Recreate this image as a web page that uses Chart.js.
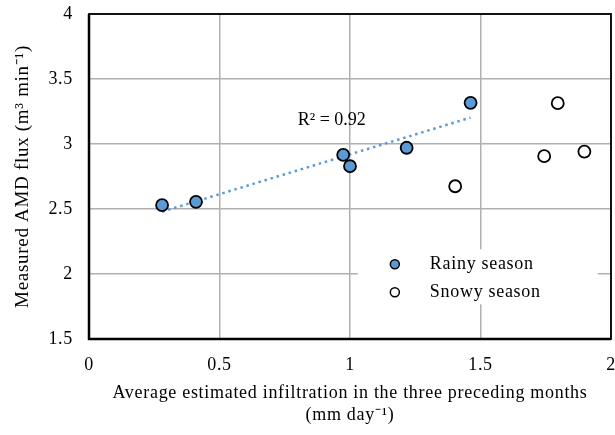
<!DOCTYPE html>
<html>
<head>
<meta charset="utf-8">
<script src="https://cdn.jsdelivr.net/npm/chart.js@4"></script>
<style>
  html, body { margin: 0; padding: 0; background: #fff; }
  #wrap { width: 615px; height: 435px; }
</style>
</head>
<body>
<div id="wrap"><canvas id="fluxChart" width="615" height="435"></canvas></div>
<script>
// infiltration (mm/day) vs measured AMD flux (m3/min)
const rainyX = [0.28, 0.41, 0.974, 1.0, 1.217, 1.462];
const rainyY = [2.53, 2.555, 2.917, 2.829, 2.971, 3.317];
const snowyX = [1.403, 1.744, 1.796, 1.898];
const snowyY = [2.675, 2.906, 3.314, 2.942];
const seriesLabels = ['Rainy season', 'Snowy season'];
const r2Text = 'R\u00b2 = 0.92';

const FONT = "'Liberation Serif', 'Times New Roman', serif";
const BLUE = '#5b9bd5';

function toPoints(xs, ys) {
    return xs.map((x, i) => ({ x: x, y: ys[i] }));
}

// least squares line through the rainy season points
function linearFit(xs, ys) {
    const n = xs.length;
    const mx = xs.reduce((a, b) => a + b, 0) / n;
    const my = ys.reduce((a, b) => a + b, 0) / n;
    let sxy = 0, sxx = 0;
    for (let i = 0; i < n; i++) {
        sxy += (xs[i] - mx) * (ys[i] - my);
        sxx += (xs[i] - mx) * (xs[i] - mx);
    }
    const slope = sxy / sxx;
    return { slope: slope, intercept: my - slope * mx };
}

const fit = linearFit(rainyX, rainyY);
const xMin = Math.min(...rainyX), xMax = Math.max(...rainyX);
const trendPoints = [
    { x: xMin, y: fit.intercept + fit.slope * xMin },
    { x: xMax, y: fit.intercept + fit.slope * xMax }
];

// slightly wider letter spacing for all text
const spacing = {
    id: 'spacing',
    beforeDraw(chart) { chart.ctx.letterSpacing = '0.7px'; },
    afterDraw(chart) { chart.ctx.letterSpacing = '0px'; }
};

// black frame round the plot area
const frame = {
    id: 'frame',
    beforeDatasetsDraw(chart) {
        const { ctx, chartArea: a } = chart;
        ctx.save();
        ctx.strokeStyle = '#000';
        ctx.lineWidth = 1.8;
        ctx.strokeRect(a.left, a.top, a.right - a.left, a.bottom - a.top);
        ctx.lineWidth = 2.5;
        ctx.beginPath();
        ctx.moveTo(a.left, a.top);
        ctx.lineTo(a.left, a.bottom);
        ctx.lineTo(a.right, a.bottom);
        ctx.stroke();
        ctx.restore();
    }
};

// R² note and the in-plot legend
const notes = {
    id: 'notes',
    afterDatasetsDraw(chart) {
        const { ctx } = chart;
        const xs = chart.scales.x, ys = chart.scales.y;
        ctx.save();
        ctx.fillStyle = '#000';
        ctx.font = '18px ' + FONT;
        ctx.textBaseline = 'middle';
        ctx.textAlign = 'left';
        ctx.letterSpacing = '0px';
        ctx.fillText(r2Text, xs.getPixelForValue(0.8), ys.getPixelForValue(3.18));

        // legend box, white so the grid is hidden behind it
        const bx = xs.getPixelForValue(1.03), by = ys.getPixelForValue(2.19);
        const bw = 240, bh = 55;
        ctx.fillStyle = '#fff';
        ctx.fillRect(bx, by, bw, bh);

        ctx.letterSpacing = '0.7px';
        const fills = [BLUE, '#fff'];
        seriesLabels.forEach((lbl, i) => {
            const cy = by + 15 + i * 28;
            ctx.beginPath();
            ctx.arc(bx + 37, cy, 4.5, 0, Math.PI * 2);
            ctx.fillStyle = fills[i];
            ctx.fill();
            ctx.lineWidth = 1.5;
            ctx.strokeStyle = '#000';
            ctx.stroke();
            ctx.fillStyle = '#000';
            ctx.fillText(lbl, bx + 72, cy);
        });
        ctx.restore();
    }
};

new Chart(document.getElementById('fluxChart').getContext('2d'), {
    type: 'scatter',
    data: {
        datasets: [
            {
                label: seriesLabels[0],
                data: toPoints(rainyX, rainyY),
                backgroundColor: BLUE,
                borderColor: '#000',
                borderWidth: 1.8,
                pointRadius: 6,
                order: 1
            },
            {
                label: seriesLabels[1],
                data: toPoints(snowyX, snowyY),
                backgroundColor: '#fff',
                borderColor: '#000',
                borderWidth: 1.8,
                pointRadius: 6,
                order: 1
            },
            {
                label: 'trend',
                type: 'line',
                data: trendPoints,
                borderColor: BLUE,
                borderWidth: 2.5,
                borderDash: [2.5, 3.8],
                pointRadius: 0,
                fill: false,
                order: 2
            }
        ]
    },
    options: {
        responsive: false,
        animation: false,
        layout: { autoPadding: false, padding: { top: 14, right: 4, left: 0, bottom: 0 } },
        plugins: {
            legend: { display: false },
            tooltip: { enabled: false }
        },
        scales: {
            x: {
                type: 'linear',
                min: 0,
                max: 2,
                afterFit: scale => {
                    scale.height = 96;
                    scale.paddingLeft = 0;
                    scale.paddingRight = 0;
                },
                ticks: {
                    stepSize: 0.5,
                    color: '#000',
                    padding: 15,
                    font: { family: FONT, size: 18 },
                    callback: v => String(v)
                },
                grid: { color: '#b0b0b0', lineWidth: 1.5, drawTicks: false },
                border: { display: false },
                title: {
                    display: true,
                    text: ['Average estimated infiltration in the three preceding months', '(mm day\u207b\u00b9)'],
                    color: '#000',
                    font: { family: FONT, size: 18 },
                    lineHeight: 1.28,
                    padding: { top: 4, bottom: 9 }
                }
            },
            y: {
                min: 1.5,
                max: 4,
                afterFit: scale => {
                    scale.width = 89;
                    scale.paddingTop = 0;
                    scale.paddingBottom = 0;
                },
                ticks: {
                    stepSize: 0.5,
                    color: '#000',
                    padding: 16,
                    font: { family: FONT, size: 18 },
                    callback: v => String(v)
                },
                grid: { color: '#b0b0b0', lineWidth: 1.5, drawTicks: false },
                border: { display: false },
                title: {
                    display: true,
                    text: 'Measured AMD flux (m\u00b3 min\u207b\u00b9)',
                    color: '#000',
                    font: { family: FONT, size: 19 },
                    padding: { top: 12 }
                }
            }
        }
    },
    plugins: [spacing, frame, notes]
});
</script>
</body>
</html>
